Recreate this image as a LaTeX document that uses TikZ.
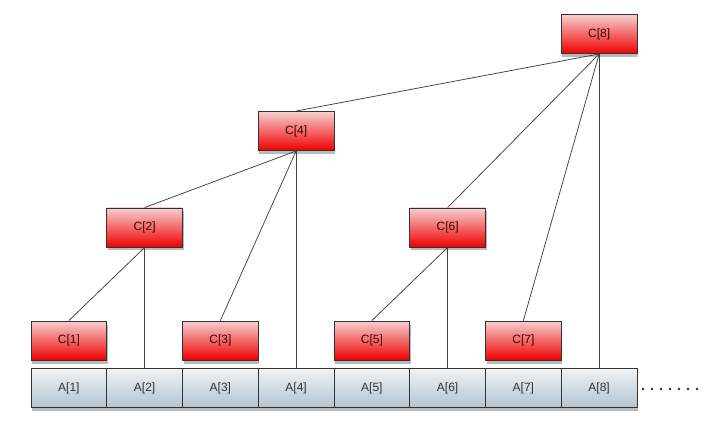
\documentclass[tikz,border=0pt]{standalone}
\usepackage{fontspec}
\setmainfont{Liberation Sans}
\usetikzlibrary{shadows}
\definecolor{cellTop}{HTML}{EEF3F6}
\definecolor{cellBot}{HTML}{B3C4D1}
\definecolor{treeTop}{HTML}{F6CFCF}
\definecolor{treeBot}{HTML}{F00000}
\tikzset{every picture/.style={
  line join=round               % Rounded joins everywhere.
  }
}

\begin{document}
\begin{tikzpicture}[x=1pt,y=-1pt,
    abox/.style={
      draw=black!80,line width=0.9pt,
      minimum width=75.75pt,minimum height=39pt,inner sep=0pt,
      top color=cellTop,bottom color=cellBot,
      text=black!80,font=\fontsize{12}{14}\selectfont,
      drop shadow={shadow xshift=1pt,shadow yshift=-3.5pt,
        opacity=.45,fill=black!60}
    },
    cbox/.style={
      abox,
      top color=treeTop,bottom color=treeBot,
      text=black!75!red
    },
    link/.style={
      draw=black!75,line width=0.75pt
    }]

    \useasboundingbox (0,0) rectangle (706,427);

    % The array A, one cell after another.
    \foreach \i in {1,...,8} {
      \node[abox] (a\i) at ({68.9+75.75*(\i-1)},388) {A[\i]};
    };

    % The tree C, one level at a time.
    \foreach \i in {1,3,5,7} {
      \node[cbox] (c\i) at ({68.9+75.75*(\i-1)},340.5) {C[\i]};
    };
    \foreach \i in {2,6} {
      \node[cbox] (c\i) at ({68.9+75.75*(\i-1)},227.5) {C[\i]};
    };
    \node[cbox] (c4) at ({68.9+75.75*3},131) {C[4]};
    \node[cbox] (c8) at ({68.9+75.75*7},34) {C[8]};

    % Link each C to what it sums up.
    \draw[link] (c2.south) -- (c1.north);
    \draw[link] (c2.south) -- (a2.north);
    \draw[link] (c6.south) -- (c5.north);
    \draw[link] (c6.south) -- (a6.north);
    \foreach \t in {c2,c3,a4} {
      \draw[link] (c4.south) -- (\t.north);
    };
    \foreach \t in {c4,c6,c7,a8} {
      \draw[link] (c8.south) -- (\t.north);
    };

    % The array goes on.
    \foreach \d in {0,...,6} {
      \fill[black!85] ({643+9*\d},389) circle (1.3pt);
    };
  \end{tikzpicture}
\end{document}
